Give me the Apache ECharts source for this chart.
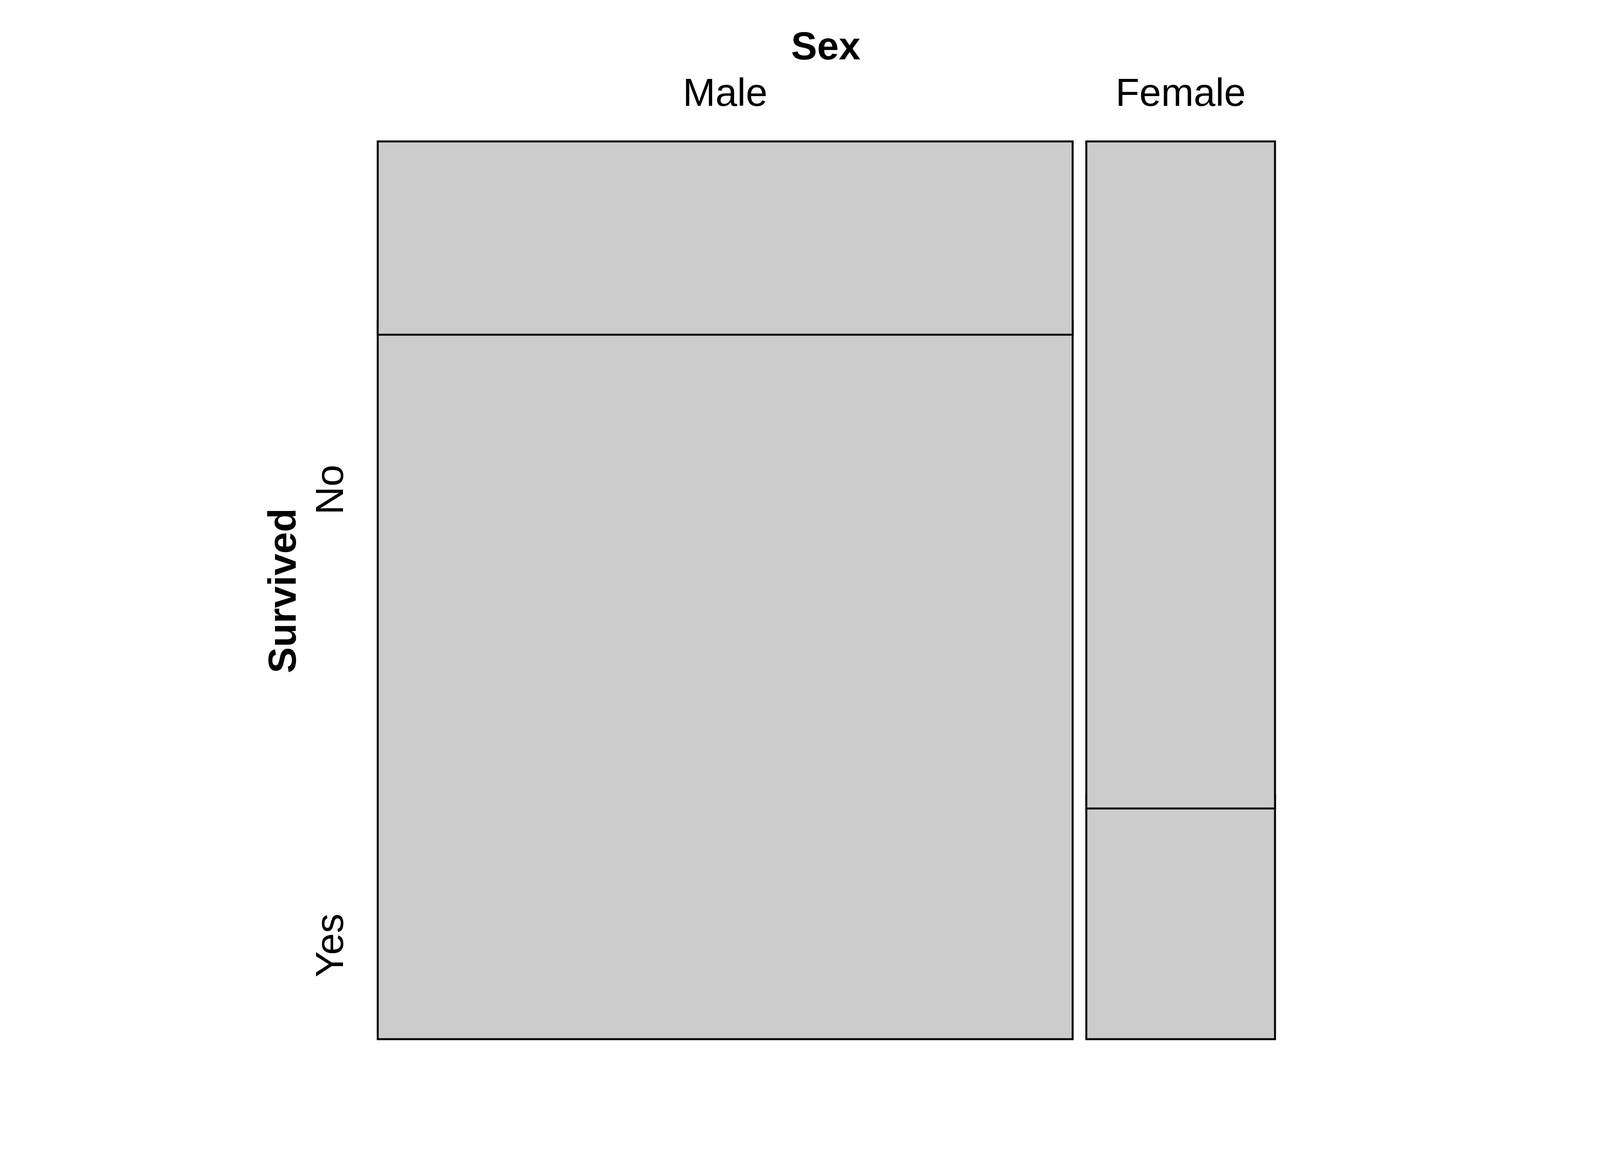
<!DOCTYPE html>
<html>
<head>
<meta charset="utf-8">
<script src="https://cdn.jsdelivr.net/npm/echarts@6/dist/echarts.min.js"></script>
<style>
  html, body { margin: 0; padding: 0; background: #fff; }
  #chart { width: 4200px; height: 3000px; }
</style>
</head>
<body>
<div id="chart"></div>
<script>
// Titanic: Sex x Survived
const sexLevels = ['Male', 'Female'];
const survivedLevels = ['No', 'Yes'];
const counts = [
    [1364, 367],  // Male: No, Yes
    [126, 344]    // Female: No, Yes
];

const GAP = 35;
const FONT = 'Liberation Sans, Arial, sans-serif';

const totals = counts.map(r => r[0] + r[1]);
const grand = totals[0] + totals[1];

// one cell per (sex, survived), with fractions along each axis
const cells = [];
let xAcc = 0;
sexLevels.forEach((s, i) => {
    let yAcc = 0;
    survivedLevels.forEach((v, j) => {
        const yf = counts[i][j] / totals[i];
        cells.push([xAcc, xAcc + totals[i] / grand, yAcc, yAcc + yf, i, j]);
        yAcc += yf;
    });
    xAcc += totals[i] / grand;
});

function renderItem(params, api) {
    const p0 = api.coord([0, 0]);
    const p1 = api.coord([1, 1]);
    const W = p1[0] - p0[0] - GAP * (sexLevels.length - 1);
    const H = p0[1] - p1[1] - GAP * (survivedLevels.length - 1);
    const i = api.value(4), j = api.value(5);
    const x = p0[0] + api.value(0) * W + i * GAP;
    const w = (api.value(1) - api.value(0)) * W;
    const y = p1[1] + api.value(2) * H + j * GAP;
    const h = (api.value(3) - api.value(2)) * H;
    return {
        type: 'rect',
        shape: { x: x, y: y, width: w, height: h },
        style: { fill: '#cccccc', stroke: '#000', lineWidth: 5 }
    };
}

const chart = echarts.init(document.getElementById('chart'));
const gLeft = 967, gTop = 362, gWidth = 2297, gHeight = 2298;
const Wd = gWidth - GAP, Hd = gHeight - GAP;

function label(x, y, text, bold, rot) {
    return {
        type: 'text', x: x, y: y, rotation: rot || 0,
        style: { x: 0, y: 0, text: text, font: (bold ? 'bold ' : '') + '100px ' + FONT, fill: '#000', align: 'center', verticalAlign: 'middle' }
    };
}

const graphics = [
    label(2114, 124, 'Sex', true),
    label(729, 1512, 'Survived', true, Math.PI / 2)
];
let xa = 0;
sexLevels.forEach((s, i) => {
    const w = totals[i] / grand * Wd;
    graphics.push(label(gLeft + xa + w / 2 + i * GAP, 243, s, false));
    xa += w;
});
let ya = 0;
survivedLevels.forEach((v, j) => {
    const h = counts[0][j] / totals[0] * Hd;
    graphics.push(label(850, gTop + ya + h / 2 + j * GAP, v, false, Math.PI / 2));
    ya += h;
});

chart.setOption({
    animation: false,
    backgroundColor: '#fff',
    grid: { left: gLeft, top: gTop, width: gWidth, height: gHeight },
    xAxis: { type: 'value', min: 0, max: 1, show: false },
    yAxis: { type: 'value', min: 0, max: 1, inverse: true, show: false },
    graphic: graphics,
    series: [{
        type: 'custom',
        renderItem: renderItem,
        data: cells,
        encode: { x: [0, 1], y: [2, 3] }
    }]
});
</script>
</body>
</html>
